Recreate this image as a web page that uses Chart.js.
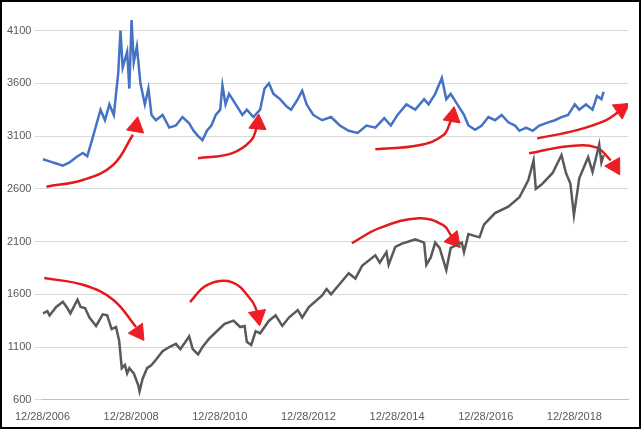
<!DOCTYPE html>
<html>
<head>
  <meta charset="UTF-8">
  <script src="https://cdn.jsdelivr.net/npm/chart.js"></script>
  <style>
    body { margin: 0; background: #fff; }
    #wrap { width: 637px; height: 425px; border: 2px solid #000; }
  </style>
</head>
<body>
  <div id="wrap"><canvas id="c"></canvas></div>
  <script>
    // time as fractional years, 12/28/2006 = 2006.99
    const grayYears = [2007.0,2007.1,2007.15,2007.3,2007.45,2007.55,2007.62,2007.78,2007.85,2007.95,2008.05,2008.2,2008.35,2008.45,2008.55,2008.65,2008.72,2008.78,2008.85,2008.9,2008.95,2009.05,2009.15,2009.18,2009.25,2009.35,2009.45,2009.55,2009.7,2009.85,2010.0,2010.1,2010.3,2010.38,2010.5,2010.6,2010.75,2010.9,2011.1,2011.3,2011.45,2011.55,2011.6,2011.7,2011.8,2011.9,2012.1,2012.25,2012.4,2012.55,2012.75,2012.85,2013.0,2013.3,2013.4,2013.5,2013.7,2013.9,2014.05,2014.2,2014.5,2014.6,2014.75,2014.8,2014.95,2015.1,2015.4,2015.6,2015.65,2015.75,2015.85,2015.95,2016.1,2016.2,2016.45,2016.5,2016.6,2016.85,2016.95,2017.2,2017.5,2017.75,2017.95,2018.07,2018.12,2018.25,2018.5,2018.7,2018.8,2018.9,2018.98,2019.1,2019.3,2019.4,2019.55,2019.6,2019.65];
    const grayValues = [1420,1440,1400,1480,1530,1470,1420,1550,1480,1470,1380,1300,1410,1400,1270,1290,1160,900,930,850,900,850,740,680,800,900,930,980,1060,1100,1130,1080,1200,1080,1030,1100,1180,1240,1320,1350,1290,1300,1150,1120,1250,1230,1350,1400,1300,1380,1450,1380,1480,1590,1650,1600,1700,1800,1750,1870,1970,1900,2000,1880,2050,2080,2120,2090,1880,1950,2090,2040,1830,2040,2090,2000,2170,2140,2260,2370,2430,2520,2680,2870,2600,2640,2750,2920,2750,2650,2350,2700,2900,2760,3020,2850,2920];
    const blueYears = [2007.0,2007.15,2007.3,2007.45,2007.6,2007.75,2007.9,2008.0,2008.1,2008.2,2008.3,2008.4,2008.5,2008.6,2008.7,2008.75,2008.8,2008.9,2008.95,2009.0,2009.05,2009.12,2009.2,2009.3,2009.38,2009.45,2009.55,2009.7,2009.85,2010.0,2010.15,2010.3,2010.4,2010.5,2010.6,2010.7,2010.8,2010.9,2011.0,2011.05,2011.12,2011.2,2011.35,2011.5,2011.6,2011.75,2011.9,2012.0,2012.1,2012.2,2012.35,2012.5,2012.6,2012.75,2012.85,2012.95,2013.1,2013.3,2013.5,2013.7,2013.9,2014.1,2014.3,2014.5,2014.7,2014.85,2015.0,2015.2,2015.4,2015.6,2015.7,2015.85,2016.0,2016.1,2016.2,2016.35,2016.5,2016.6,2016.75,2016.9,2017.05,2017.2,2017.35,2017.5,2017.65,2017.75,2017.9,2018.05,2018.2,2018.4,2018.55,2018.7,2018.85,2019.0,2019.1,2019.25,2019.4,2019.5,2019.6,2019.65];
    const blueValues = [2880,2860,2840,2820,2850,2900,2940,2910,3050,3200,3350,3250,3400,3300,3700,4100,3750,3900,3550,4200,3800,3950,3600,3400,3550,3300,3250,3300,3180,3200,3280,3220,3150,3100,3060,3150,3200,3300,3350,3580,3400,3500,3400,3300,3350,3280,3350,3550,3600,3500,3450,3380,3350,3450,3530,3400,3300,3250,3280,3200,3150,3130,3200,3180,3270,3200,3300,3400,3350,3450,3400,3500,3650,3450,3500,3400,3300,3200,3160,3200,3280,3250,3300,3230,3200,3150,3180,3150,3200,3230,3250,3280,3300,3400,3350,3400,3350,3480,3450,3520];
    const yTicks = [600,1100,1600,2100,2600,3100,3600,4100];

    // annotation arrows: shaft points [year, value], head point and head rotation
    const arrows = [
      { shaft: [[2007.08,2620],[2007.92,2686],[2008.59,2828],[2009.03,3112]], head: [2009.1,3190], rot: 10 },
      { shaft: [[2010.5,2889],[2011.26,2936],[2011.7,3059],[2011.83,3190]], head: [2011.85,3215], rot: 5 },
      { shaft: [[2014.5,2974],[2015.48,3012],[2016.03,3107],[2016.21,3249]], head: [2016.24,3285], rot: 10 },
      { shaft: [[2018.15,3078],[2019.03,3154],[2019.7,3249],[2019.97,3324]], head: [2020.05,3355], rot: 55 },
      { shaft: [[2017.97,2936],[2018.81,3002],[2019.48,2993],[2019.81,2870]], head: [2019.9,2815], rot: 150 },
      { shaft: [[2007.03,1754],[2007.92,1688],[2008.59,1546],[2009.1,1290]], head: [2009.15,1240], rot: 145 },
      { shaft: [[2010.32,1527],[2010.7,1688],[2011.26,1716],[2011.7,1546],[2011.83,1440]], head: [2011.85,1395], rot: 170 },
      { shaft: [[2013.97,2085],[2014.59,2227],[2015.48,2321],[2016.03,2255],[2016.22,2150]], head: [2016.27,2115], rot: 140 }
    ];

    const datasets = [
      { data: blueYears.map((x, i) => ({ x, y: blueValues[i] })), borderColor: '#4472c4', borderWidth: 2.5, pointRadius: 0, tension: 0 },
      { data: grayYears.map((x, i) => ({ x, y: grayValues[i] })), borderColor: '#595959', borderWidth: 2.5, pointRadius: 0, tension: 0 }
    ];
    arrows.forEach(a => {
      datasets.push({ data: a.shaft.map(p => ({ x: p[0], y: p[1] })), borderColor: '#e31a1c', borderWidth: 2.5, pointRadius: 0, tension: 0.4 });
      datasets.push({ data: [{ x: a.head[0], y: a.head[1] }], showLine: false, pointStyle: 'triangle', pointRadius: 10, rotation: a.rot, backgroundColor: '#ee1c25', borderColor: '#ee1c25' });
    });

    new Chart(document.getElementById('c'), {
      type: 'line',
      data: { datasets },
      options: {
        animation: false,
        responsive: true,
        maintainAspectRatio: false,
        layout: { padding: { top: 18, right: 5, left: 2 } },
        plugins: { legend: { display: false }, tooltip: { enabled: false } },
        scales: {
          x: {
            type: 'linear', min: 2006.99, max: 2020.2,
            grid: { display: false },
            border: { color: '#bfbfbf' },
            afterBuildTicks: axis => { axis.ticks = [2006.99, 2008.99, 2010.99, 2012.99, 2014.99, 2016.99, 2018.99].map(v => ({ value: v })); },
            ticks: { maxRotation: 0, color: '#595959', font: { size: 11, family: 'Liberation Sans' }, callback: v => '12/28/' + Math.round(v - 0.99) }
          },
          y: {
            min: 600, max: 4200,
            afterBuildTicks: axis => { axis.ticks = yTicks.map(v => ({ value: v })); },
            grid: { color: '#d9d9d9' },
            border: { display: false },
            ticks: { color: '#595959', font: { size: 11, family: 'Liberation Sans' }, callback: v => String(v) }
          }
        }
      }
    });
  </script>
</body>
</html>
